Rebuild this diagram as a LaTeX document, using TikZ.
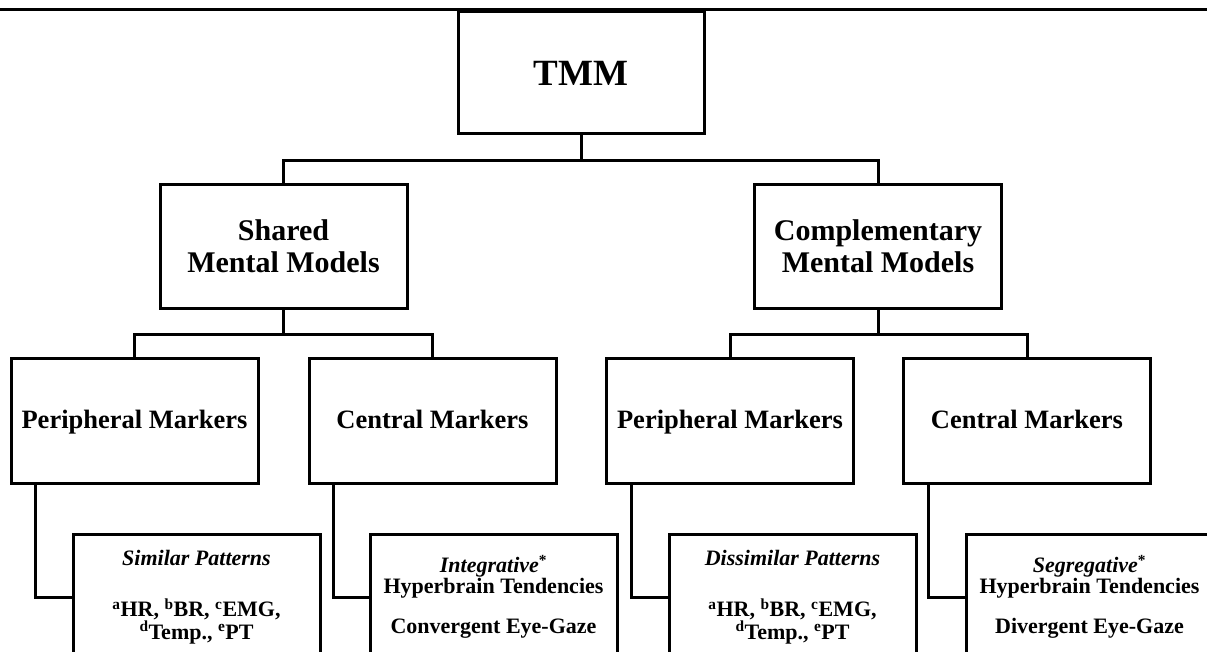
\documentclass[tikz,border=0pt]{standalone}
\usepackage{fontspec}
\setmainfont{Liberation Serif}
\usetikzlibrary{positioning}
\tikzset{>=latex}

\begin{document}
\begin{tikzpicture}[x=1pt, y=-1pt, line width=3pt,
  box/.style={draw, line width=3pt, inner sep=0pt, align=center, minimum width=247pt},
  topbox/.style={box, minimum width=246pt, minimum height=122pt, font=\fontsize{37}{40}\selectfont\bfseries},
  modelbox/.style={box, minimum height=123pt, font=\fontsize{30}{32}\selectfont\bfseries},
  markerbox/.style={box, minimum height=125pt, text height=20pt, text depth=5pt, font=\fontsize{26.5}{29}\selectfont\bfseries},
  leafbox/.style={box, minimum height=126pt, font=\fontsize{22}{20.5}\selectfont\bfseries}]
\useasboundingbox (0,0) rectangle (1207,652);
\clip (0,0) rectangle (1207,652);
\draw (0,10) -- (1207,10);
% boxes
\node[topbox] (tmm) at (581,73) {TMM};
\node[modelbox] (smm) at (283.5,246.5) {Shared\\Mental Models};
\node[modelbox] (cmm) at (878,246.5) {Complementary\\Mental Models};
\node[markerbox] (sper) at (134.5,420.5) {Peripheral Markers};
\node[markerbox] (scen) at (432.5,420.5) {Central Markers};
\node[markerbox] (cper) at (730,420.5) {Peripheral Markers};
\node[markerbox] (ccen) at (1027,420.5) {Central Markers};
\node[leafbox] (sim) at (196.5,597) {\textit{Similar Patterns}\\[31pt]
  \textsuperscript{a}HR, \textsuperscript{b}BR, \textsuperscript{c}EMG,\\
  \textsuperscript{d}Temp., \textsuperscript{e}PT};
\node[leafbox] (integ) at (493.5,597) {\textit{Integrative}\textsuperscript{*}\\
  Hyperbrain Tendencies\\[20pt] Convergent Eye-Gaze};
\node[leafbox] (dissim) at (792.5,597) {\textit{Dissimilar Patterns}\\[31pt]
  \textsuperscript{a}HR, \textsuperscript{b}BR, \textsuperscript{c}EMG,\\
  \textsuperscript{d}Temp., \textsuperscript{e}PT};
\node[leafbox] (segr) at (1089.5,597) {\textit{Segregative}\textsuperscript{*}\\
  Hyperbrain Tendencies\\[20pt] Divergent Eye-Gaze};
% connectors
\path (tmm.south) ++(0,25) coordinate (j0);
\path (smm.south) ++(0,25) coordinate (j1);
\path (cmm.south) ++(0,25) coordinate (j2);
\draw (tmm) -- (j0);
\draw (smm.north) |- (j0) -| (cmm.north);
\draw (smm) -- (j1);
\draw (sper.north) |- (j1) -| (scen.north);
\draw (cmm) -- (j2);
\draw (cper.north) |- (j2) -| (ccen.north);
\draw ([xshift=26pt]sper.south west) |- (sim.west);
\draw ([xshift=26pt]scen.south west) |- (integ.west);
\draw ([xshift=26pt]cper.south west) |- (dissim.west);
\draw ([xshift=26pt]ccen.south west) |- (segr.west);
\end{tikzpicture}
\end{document}
